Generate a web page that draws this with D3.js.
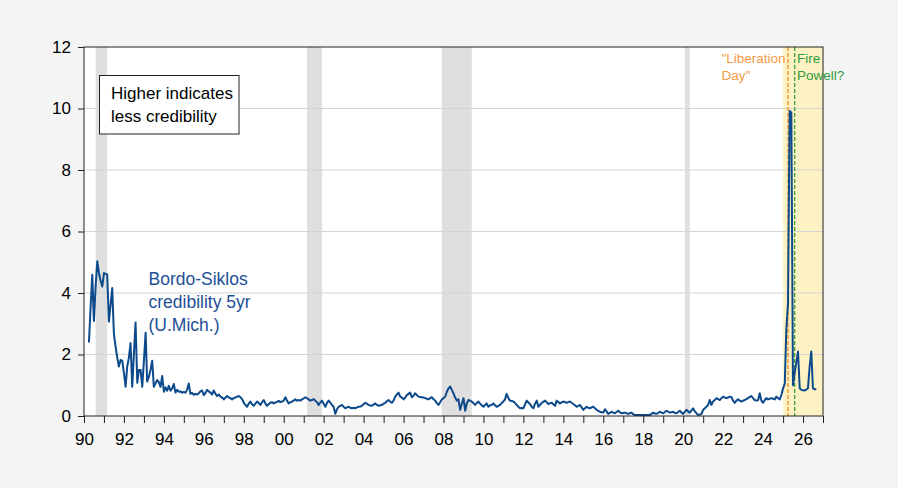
<!DOCTYPE html>
<html>
<head>
<meta charset="UTF-8">
<script src="https://cdn.jsdelivr.net/npm/d3@7"></script>
<style>
  body {
    margin: 0;
    background: #f4f4f4;
    font-family: 'Liberation Sans', Arial, sans-serif;
  }
</style>
</head>
<body>
<script>
  // monthly values, first observation April 1990
  var firstMonth = new Date(1990, 3, 1);

  var cred1990s = [
    2.39, 3.50, 4.59, 3.09, 4.20, 5.03, 4.65, 4.40, 4.21,                 // 1990 Apr-Dec
    4.65, 4.62, 4.60, 3.07, 3.60, 4.16, 2.69, 2.26, 1.90, 1.61, 1.82, 1.80, // 1991
    1.40, 0.95, 1.60, 1.90, 2.37, 0.95, 2.00, 3.04, 1.08, 1.50, 1.50, 0.95, // 1992
    1.80, 2.71, 1.12, 1.27, 1.50, 1.80, 0.95, 1.06, 1.17, 1.10, 0.95, 1.30, // 1993
    0.79, 0.93, 0.82, 0.98, 0.82, 0.90, 1.04, 0.76, 0.85, 0.79, 0.80, 0.76, // 1994
    0.78, 0.76, 0.85, 1.06, 0.72, 0.75, 0.69, 0.72, 0.70, 0.74, 0.80, 0.83, // 1995
    0.68, 0.75, 0.85, 0.80, 0.76, 0.70, 0.83, 0.72, 0.65, 0.70, 0.63, 0.60, // 1996
    0.54, 0.60, 0.65, 0.60, 0.58, 0.54, 0.58, 0.60, 0.63, 0.65, 0.61, 0.55, // 1997
    0.43, 0.36, 0.30, 0.40, 0.47, 0.38, 0.33, 0.40, 0.47, 0.42, 0.36, 0.45, // 1998
    0.52, 0.40, 0.33, 0.38, 0.43, 0.45, 0.41, 0.44, 0.46, 0.49, 0.45, 0.47  // 1999
  ];
  var cred2000s = [
    0.50, 0.61, 0.50, 0.41, 0.44, 0.47, 0.50, 0.54, 0.50, 0.52, 0.50, 0.54, // 2000
    0.57, 0.61, 0.58, 0.54, 0.50, 0.52, 0.55, 0.50, 0.45, 0.36, 0.44, 0.50, // 2001
    0.40, 0.30, 0.42, 0.50, 0.44, 0.36, 0.30, 0.07, 0.22, 0.30, 0.33, 0.36, // 2002
    0.30, 0.25, 0.28, 0.30, 0.27, 0.25, 0.27, 0.25, 0.28, 0.30, 0.31, 0.33, // 2003
    0.38, 0.43, 0.40, 0.36, 0.34, 0.33, 0.37, 0.41, 0.36, 0.33, 0.35, 0.36, // 2004
    0.40, 0.43, 0.48, 0.52, 0.47, 0.43, 0.50, 0.63, 0.70, 0.76, 0.63, 0.60, // 2005
    0.54, 0.60, 0.68, 0.72, 0.76, 0.61, 0.66, 0.74, 0.68, 0.63, 0.62, 0.61, // 2006
    0.60, 0.58, 0.56, 0.54, 0.58, 0.61, 0.55, 0.50, 0.42, 0.36, 0.45, 0.54, // 2007
    0.58, 0.63, 0.78, 0.90, 0.96, 0.85, 0.74, 0.60, 0.50, 0.54, 0.20, 0.40, // 2008
    0.58, 0.17, 0.40, 0.52, 0.50, 0.47, 0.42, 0.36, 0.42, 0.47, 0.40, 0.35  // 2009
  ];
  var cred2010s = [
    0.30, 0.36, 0.41, 0.30, 0.35, 0.36, 0.41, 0.35, 0.30, 0.33, 0.36, 0.42, // 2010
    0.47, 0.55, 0.72, 0.58, 0.50, 0.49, 0.47, 0.42, 0.36, 0.30, 0.25, 0.26, // 2011
    0.25, 0.38, 0.50, 0.44, 0.39, 0.30, 0.25, 0.40, 0.50, 0.30, 0.36, 0.43, // 2012
    0.46, 0.50, 0.45, 0.39, 0.41, 0.43, 0.38, 0.33, 0.50, 0.45, 0.41, 0.44, // 2013
    0.47, 0.45, 0.43, 0.45, 0.47, 0.43, 0.39, 0.35, 0.30, 0.33, 0.36, 0.28, // 2014
    0.20, 0.25, 0.30, 0.27, 0.25, 0.28, 0.30, 0.25, 0.20, 0.17, 0.14, 0.12, // 2015
    0.11, 0.22, 0.15, 0.07, 0.10, 0.14, 0.11, 0.09, 0.13, 0.17, 0.12, 0.09, // 2016
    0.10, 0.11, 0.09, 0.07, 0.09, 0.11, 0.06, 0.03, 0.03, 0.03, 0.03, 0.03, // 2017
    0.03, 0.03, 0.03, 0.03, 0.03, 0.07, 0.11, 0.08, 0.07, 0.10, 0.14, 0.11, // 2018
    0.09, 0.13, 0.17, 0.14, 0.11, 0.12, 0.14, 0.10, 0.09, 0.13, 0.17, 0.11  // 2019
  ];
  var cred2020s = [
    0.07, 0.14, 0.20, 0.15, 0.11, 0.18, 0.25, 0.15, 0.09, 0.03, 0.05, 0.07, // 2020
    0.20, 0.25, 0.30, 0.36, 0.52, 0.36, 0.47, 0.52, 0.58, 0.55, 0.52, 0.58, // 2021
    0.63, 0.60, 0.58, 0.60, 0.63, 0.62, 0.50, 0.43, 0.50, 0.54, 0.50, 0.47, // 2022
    0.50, 0.52, 0.55, 0.58, 0.62, 0.65, 0.58, 0.52, 0.50, 0.51, 0.74, 0.50, // 2023
    0.43, 0.52, 0.58, 0.54, 0.56, 0.58, 0.56, 0.54, 0.63, 0.58, 0.54, 0.68, // 2024
    0.90, 1.05, 2.80, 3.67, 9.92, 9.87, 1.00, 1.40, 1.75, 2.10, 0.90, 0.85, // 2025
    0.84, 0.83, 0.86, 0.90, 1.60, 2.10, 0.90, 0.87, 0.87                    // 2026 Jan-Sep
  ];

  var recessions = [
    ["1990-08-01", "1991-03-01"],
    ["2001-03-01", "2001-12-01"],
    ["2007-12-01", "2009-06-01"],
    ["2020-02-01", "2020-05-01"]
  ];
  var tariffPeriodStart = "2025-01-01";
  var liberationDay = "2025-04-01";
  var firePowell = "2025-08-01";
  var yTicks = [0, 2, 4, 6, 8, 10, 12];

  var values = cred1990s.concat(cred2000s, cred2010s, cred2020s);
  var data = values.map(function(v, i) {
    return { date: d3.timeMonth.offset(firstMonth, i), value: v };
  });
  var parse = d3.timeParse("%Y-%m-%d");

  var width = 898, height = 488;
  var margin = { top: 47, right: 75, bottom: 72, left: 84 };
  var innerW = width - margin.left - margin.right,
      innerH = height - margin.top - margin.bottom;

  var svg = d3.select("body").append("svg")
    .attr("width", width)
    .attr("height", height);

  var g = svg.append("g")
    .attr("transform", "translate(" + margin.left + "," + margin.top + ")");

  var x = d3.scaleTime()
    .domain([new Date(1990, 0, 1), new Date(2027, 0, 1)])
    .range([0, innerW]);
  var y = d3.scaleLinear()
    .domain([0, 12])
    .range([innerH, 0]);

  // plot background
  g.append("rect")
    .attr("width", innerW)
    .attr("height", innerH)
    .attr("fill", "#fff");

  // recession bars
  g.selectAll(".rec")
    .data(recessions)
    .enter().append("rect")
      .attr("x", function(d) { return x(parse(d[0])); })
      .attr("width", function(d) { return x(parse(d[1])) - x(parse(d[0])); })
      .attr("y", 0)
      .attr("height", innerH)
      .attr("fill", "#dfdfdf");

  // shaded period since 2025
  g.append("rect")
    .attr("x", x(parse(tariffPeriodStart)))
    .attr("width", innerW - x(parse(tariffPeriodStart)))
    .attr("y", 0)
    .attr("height", innerH)
    .attr("fill", "#fdf2c4");

  // grid lines
  g.selectAll(".grid")
    .data(yTicks.slice(1, -1))
    .enter().append("line")
      .attr("x1", 0).attr("x2", innerW)
      .attr("y1", function(d) { return y(d); })
      .attr("y2", function(d) { return y(d); })
      .attr("stroke", "#d4d4d4")
      .attr("stroke-width", 1);

  // event lines
  g.append("line")
    .attr("x1", x(parse(liberationDay))).attr("x2", x(parse(liberationDay)))
    .attr("y1", 0).attr("y2", innerH)
    .attr("stroke", "#f58a1f")
    .attr("stroke-width", 1.3)
    .attr("stroke-dasharray", "4,2");
  g.append("line")
    .attr("x1", x(parse(firePowell))).attr("x2", x(parse(firePowell)))
    .attr("y1", 0).attr("y2", innerH)
    .attr("stroke", "#3aa03a")
    .attr("stroke-width", 1.3)
    .attr("stroke-dasharray", "4,2");

  // series
  g.append("path")
    .datum(data)
    .attr("fill", "none")
    .attr("stroke", "#0c4a8c")
    .attr("stroke-width", 2)
    .attr("stroke-linejoin", "round")
    .attr("d", d3.line()
      .x(function(d) { return x(d.date); })
      .y(function(d) { return y(d.value); }));

  // frame
  g.append("rect")
    .attr("width", innerW)
    .attr("height", innerH)
    .attr("fill", "none")
    .attr("stroke", "#222")
    .attr("stroke-width", 1);

  // axes
  var xAxis = g.append("g")
    .attr("transform", "translate(0," + innerH + ")")
    .call(d3.axisBottom(x)
      .ticks(d3.timeYear.every(1))
      .tickSize(7)
      .tickPadding(10)
      .tickFormat(function(d) {
        return d.getFullYear() % 2 === 0 ? d3.timeFormat("%y")(d) : "";
      }));
  xAxis.select(".domain").remove();

  var yAxis = g.append("g")
    .call(d3.axisLeft(y).tickValues(yTicks).tickSize(6).tickPadding(7));
  yAxis.select(".domain").remove();

  g.selectAll(".tick text")
    .attr("fill", "#000")
    .style("font-size", "17px")
    .style("font-family", "'Liberation Sans', Arial, sans-serif");
  g.selectAll(".tick line").attr("stroke", "#222");

  // note box
  var note = svg.append("g");
  note.append("rect")
    .attr("x", 99.5).attr("y", 75.5)
    .attr("width", 139.5).attr("height", 58.5)
    .attr("fill", "#fff")
    .attr("stroke", "#222");
  note.append("text")
    .attr("x", 111).attr("y", 99)
    .style("font-size", "17px")
    .text("Higher indicates");
  note.append("text")
    .attr("x", 111).attr("y", 122)
    .style("font-size", "17px")
    .text("less credibility");

  // series label
  var label = svg.append("text")
    .attr("x", 148.5)
    .attr("y", 285)
    .attr("fill", "#1d4f96")
    .style("font-size", "17.5px");
  ["Bordo-Siklos", "credibility 5yr", "(U.Mich.)"].forEach(function(t, i) {
    label.append("tspan").attr("x", 148.5).attr("dy", i ? 23 : 0).text(t);
  });

  // event labels
  var lib = svg.append("text")
    .attr("x", 721.5).attr("y", 62.5)
    .attr("fill", "#f59b45")
    .style("font-size", "13.5px");
  ['"Liberation', 'Day"'].forEach(function(t, i) {
    lib.append("tspan").attr("x", 721.5).attr("dy", i ? 17 : 0).text(t);
  });
  var fire = svg.append("text")
    .attr("x", 797).attr("y", 62.5)
    .attr("fill", "#2f9a3a")
    .style("font-size", "13.5px");
  ["Fire", "Powell?"].forEach(function(t, i) {
    fire.append("tspan").attr("x", 797).attr("dy", i ? 17 : 0).text(t);
  });
</script>
</body>
</html>
